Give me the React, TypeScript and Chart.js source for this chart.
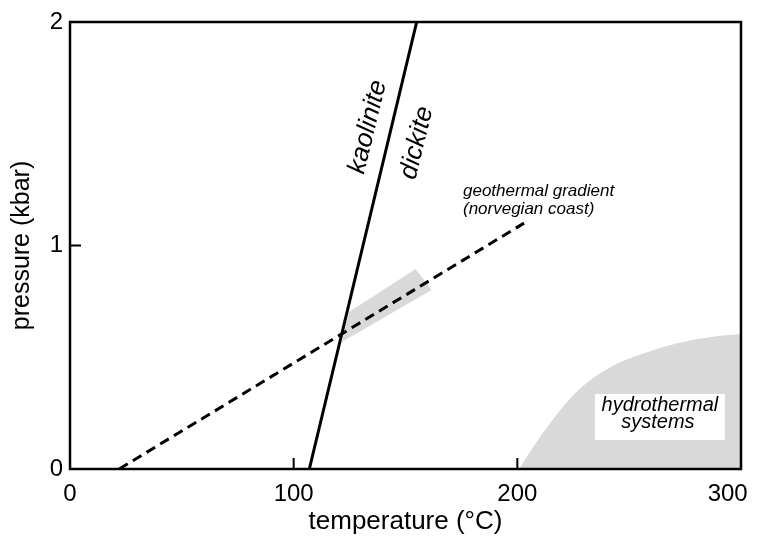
import React, { useEffect, useRef } from "react";
import { Chart, registerables } from "chart.js";

Chart.register(...registerables);

const FONT = "'Liberation Sans', Arial, Helvetica, sans-serif";

// axis ticks
const temperatureTicks = [0, 100, 200, 300];
const pressureTicks = [0, 1, 2];

// kaolinite -> dickite reaction boundary
const boundaryTemp = [107, 155];
const boundaryPress = [0, 2];

// geothermal gradient (Norwegian coast)
const gradientTemp = [22, 203];
const gradientPress = [0, 1.1];

// shaded window along the gradient, just above the boundary
const windowTemp = [121.5, 124.7, 154.5, 161.7];
const windowPress = [0.568, 0.702, 0.895, 0.801];

// field of hydrothermal systems (outer edge)
const hydroTemp = [200.8, 212.4, 227.3, 242, 257, 272, 286.6, 300];
const hydroPress = [0, 0.174, 0.353, 0.458, 0.519, 0.564, 0.591, 0.604];

const GREY = "#d9d9d9";

const zip = (xs: number[], ys: number[]) => xs.map((x, i) => ({ x, y: ys[i] }));

const overlay = {
  id: "overlay",
  beforeDatasetsDraw(chart: any) {
    const { ctx, scales } = chart;
    const xs = scales.x;
    const ys = scales.y;
    ctx.save();
    ctx.fillStyle = GREY;
    ctx.beginPath();
    windowTemp.forEach((t, i) => {
      const px = xs.getPixelForValue(t);
      const py = ys.getPixelForValue(windowPress[i]);
      if (i === 0) ctx.moveTo(px, py);
      else ctx.lineTo(px, py);
    });
    ctx.closePath();
    ctx.fill();
    ctx.restore();
  },
  afterDatasetsDraw(chart: any) {
    const { ctx, chartArea, scales } = chart;
    const xs = scales.x;
    const ys = scales.y;
    const { left, right, top, bottom } = chartArea;
    ctx.save();

    // frame
    ctx.strokeStyle = "#000";
    ctx.lineWidth = 2.5;
    ctx.strokeRect(left, top, right - left, bottom - top);

    // inward tick marks
    ctx.lineWidth = 2;
    ctx.beginPath();
    temperatureTicks.slice(1, -1).forEach((t) => {
      const px = xs.getPixelForValue(t);
      ctx.moveTo(px, bottom);
      ctx.lineTo(px, bottom - 11);
    });
    pressureTicks.slice(1, -1).forEach((p) => {
      const py = ys.getPixelForValue(p);
      ctx.moveTo(left, py);
      ctx.lineTo(left + 11, py);
    });
    ctx.stroke();

    // labels along the reaction boundary
    const x0 = xs.getPixelForValue(boundaryTemp[0]);
    const y0 = ys.getPixelForValue(boundaryPress[0]);
    const x1 = xs.getPixelForValue(boundaryTemp[1]);
    const y1 = ys.getPixelForValue(boundaryPress[1]);
    const angle = Math.atan2(y1 - y0, x1 - x0);
    ctx.fillStyle = "#000";
    ctx.font = `italic 26px ${FONT}`;
    ctx.textAlign = "center";
    ctx.textBaseline = "middle";
    const rotated = (text: string, t: number, p: number) => {
      ctx.save();
      ctx.translate(xs.getPixelForValue(t), ys.getPixelForValue(p));
      ctx.rotate(angle);
      ctx.fillText(text, 0, 0);
      ctx.restore();
    };
    rotated("kaolinite", 133.2, 1.53);
    rotated("dickite", 155.1, 1.459);

    // gradient label
    ctx.font = `italic 17px ${FONT}`;
    ctx.textAlign = "left";
    ctx.textBaseline = "alphabetic";
    const gx = xs.getPixelForValue(175.7);
    ctx.fillText("geothermal gradient", gx, ys.getPixelForValue(1.221));
    ctx.fillText("(norvegian coast)", gx, ys.getPixelForValue(1.141));

    // hydrothermal systems label on a white box
    const bx0 = xs.getPixelForValue(234.7);
    const bx1 = xs.getPixelForValue(292.8);
    const by0 = ys.getPixelForValue(0.336);
    const by1 = ys.getPixelForValue(0.13);
    ctx.fillStyle = "#fff";
    ctx.fillRect(bx0, by0, bx1 - bx0, by1 - by0);
    ctx.fillStyle = "#000";
    ctx.font = `italic 20px ${FONT}`;
    ctx.textAlign = "center";
    const cx = (bx0 + bx1) / 2;
    ctx.fillText("hydrothermal", cx, ys.getPixelForValue(0.2595));
    ctx.fillText("systems", cx - 2, ys.getPixelForValue(0.183));

    ctx.restore();
  },
};

export default function App() {
  const ref = useRef<HTMLCanvasElement | null>(null);

  useEffect(() => {
    if (!ref.current) return;
    const chart = new Chart(ref.current, {
      type: "scatter",
      data: {
        datasets: [
          {
            data: zip(boundaryTemp, boundaryPress),
            showLine: true,
            borderColor: "#000",
            borderWidth: 3,
            pointRadius: 0,
          },
          {
            data: zip(gradientTemp, gradientPress),
            showLine: true,
            borderColor: "#000",
            borderWidth: 3,
            borderDash: [10, 6],
            pointRadius: 0,
          },
          {
            data: zip(hydroTemp, hydroPress),
            showLine: true,
            borderWidth: 0,
            borderColor: GREY,
            backgroundColor: GREY,
            fill: "origin",
            tension: 0.35,
            pointRadius: 0,
          },
        ],
      },
      options: {
        responsive: false,
        animation: false,
        events: [],
        layout: { padding: { left: 0, right: 21, top: 22, bottom: 0 } },
        plugins: {
          legend: { display: false },
          tooltip: { enabled: false },
        },
        scales: {
          x: {
            type: "linear",
            min: 0,
            max: 300,
            grid: { display: false, drawTicks: false },
            border: { display: false },
            afterBuildTicks: (s: any) => {
              s.ticks = temperatureTicks.map((v) => ({ value: v }));
            },
            afterFit: (s: any) => {
              s.height = 70;
              s.paddingLeft = 0;
              s.paddingRight = 0;
            },
            ticks: {
              color: "#000",
              padding: 11,
              maxRotation: 0,
              font: { family: FONT, size: 24 },
              // the last label is nudged inward so it sits within the frame
              callback: (v: any) => (v === 300 ? "300\u2007\u2007" : String(v)),
            },
            title: {
              display: true,
              text: "temperature (°C)",
              color: "#000",
              font: { family: FONT, size: 26 },
              padding: { top: 0, bottom: 2 },
            },
          },
          y: {
            type: "linear",
            min: 0,
            max: 2,
            grid: { display: false, drawTicks: false },
            border: { display: false },
            afterBuildTicks: (s: any) => {
              s.ticks = pressureTicks.map((v) => ({ value: v }));
            },
            afterFit: (s: any) => {
              s.width = 70;
              s.paddingTop = 0;
              s.paddingBottom = 0;
            },
            ticks: {
              color: "#000",
              padding: 7,
              font: { family: FONT, size: 24 },
            },
            title: {
              display: true,
              text: "pressure (kbar)",
              color: "#000",
              font: { family: FONT, size: 25 },
              padding: { top: 7, bottom: 0 },
            },
          },
        },
      },
      plugins: [overlay],
    });
    return () => chart.destroy();
  }, []);

  return (
    <div style={{ position: "fixed", left: 0, top: 0, width: 762, height: 539, background: "#fff" }}>
      <canvas ref={ref} width={762} height={539} style={{ display: "block" }} />
    </div>
  );
}
